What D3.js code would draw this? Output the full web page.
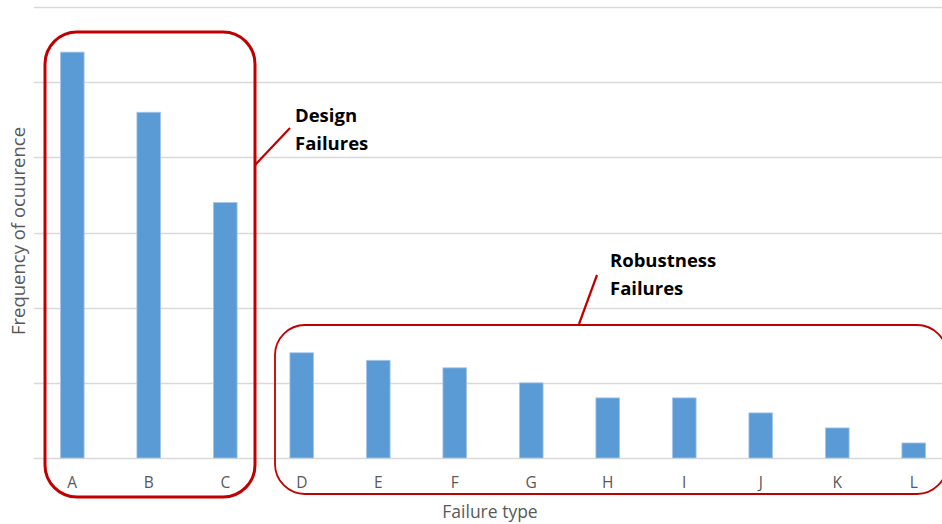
<!DOCTYPE html>
<html>
<head>
<meta charset="utf-8">
<script src="https://cdn.jsdelivr.net/npm/d3@7"></script>
<style>
  html, body { margin: 0; padding: 0; background: #fff; }
  svg { display: block; }
</style>
</head>
<body>
<svg id="chart" width="942" height="524"></svg>
<script>
// ---- data ----
const categories = ["A","B","C","D","E","F","G","H","I","J","K","L"];
const values = [27, 23, 17, 7, 6.5, 6, 5, 4, 4, 3, 2, 1];
const yTicks = [0, 5, 10, 15, 20, 25, 30];
const xTitle = "Failure type";
const yTitle = "Frequency of ocuurence";
const groupLabels = [["Design", "Failures"], ["Robustness", "Failures"]];

// ---- layout ----
const W = 942, H = 524;
const plot = { left: 34, right: 952, top: 7, bottom: 458 };
const svg = d3.select("#chart");

const x = d3.scaleBand().domain(categories).range([plot.left, plot.right]).paddingInner(0.69).paddingOuter(0.345);
const y = d3.scaleLinear().domain([0, 30]).range([plot.bottom, plot.top]);

// gridlines
svg.append("g").selectAll("line").data(yTicks).join("line")
  .attr("x1", plot.left).attr("x2", W)
  .attr("y1", d => Math.round(y(d)) + 0.5).attr("y2", d => Math.round(y(d)) + 0.5)
  .attr("stroke", "#d9d9d9").attr("stroke-width", 1.3);

// bars
svg.append("g").selectAll("rect").data(values).join("rect")
  .attr("x", (d, i) => x(categories[i]))
  .attr("width", x.bandwidth())
  .attr("y", d => y(d))
  .attr("height", d => y(0) - y(d))
  .attr("fill", "#5b9bd5")
  .attr("stroke", "#a9c8ea").attr("stroke-width", 0.8);

// x axis labels
const xAxis = d3.axisBottom(x).tickSize(0).tickPadding(0);
const gx = svg.append("g").attr("transform", `translate(0,${plot.bottom})`).call(xAxis);
gx.select(".domain").remove();
gx.selectAll("text")
  .attr("dy", null).attr("y", 30)
  .attr("fill", "#595959")
  .style("font-family", "'Open Sans', sans-serif")
  .style("font-size", "15.5px");

// axis titles
svg.append("text").attr("x", 490).attr("y", 518).attr("text-anchor", "middle")
  .attr("fill", "#595959").style("font-family", "'Open Sans', sans-serif").style("font-size", "17.5px")
  .text(xTitle);
svg.append("text").attr("transform", "translate(25,231) rotate(-90)").attr("text-anchor", "middle")
  .attr("fill", "#595959").style("font-family", "'Open Sans', sans-serif").style("font-size", "18.5px")
  .text(yTitle);

// group boxes
const red = "#c00000";
svg.append("rect").attr("x", 45).attr("y", 32).attr("width", 210).attr("height", 465)
  .attr("rx", 32).attr("ry", 32).attr("fill", "none").attr("stroke", red).attr("stroke-width", 3);
svg.append("rect").attr("x", 275).attr("y", 325).attr("width", 672).attr("height", 169)
  .attr("rx", 30).attr("ry", 30).attr("fill", "none").attr("stroke", red).attr("stroke-width", 1.8);

// callout lines
svg.append("line").attr("x1", 255).attr("y1", 165).attr("x2", 290).attr("y2", 128)
  .attr("stroke", red).attr("stroke-width", 2.2);
svg.append("line").attr("x1", 579).attr("y1", 324).attr("x2", 597).attr("y2", 275)
  .attr("stroke", red).attr("stroke-width", 2.2);

// callout labels
const labelPos = [[295, 122], [610, 267]];
groupLabels.forEach((lines, i) => {
  const t = svg.append("text").attr("x", labelPos[i][0]).attr("y", labelPos[i][1])
    .attr("fill", "#000").style("font-family", "'Open Sans', sans-serif")
    .style("font-size", "18.5px").style("font-weight", "700");
  lines.forEach((ln, j) => {
    t.append("tspan").attr("x", labelPos[i][0]).attr("dy", j === 0 ? 0 : 27.5).text(ln);
  });
});
</script>
</body>
</html>
